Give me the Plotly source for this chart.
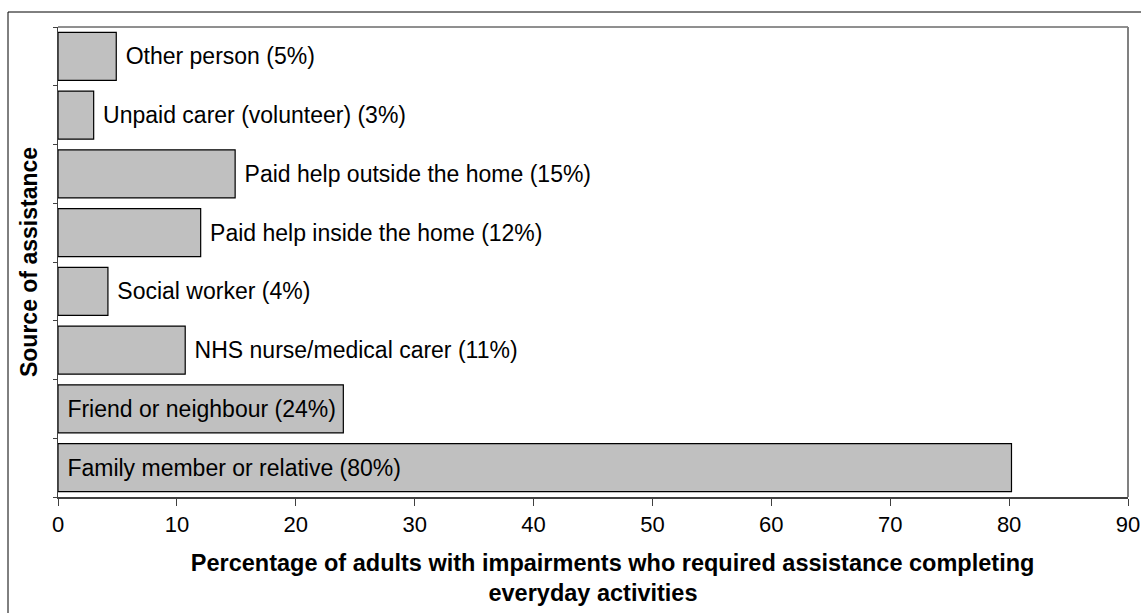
import plotly.graph_objects as go

categories = [
    "Family member or relative",
    "Friend or neighbour",
    "NHS nurse/medical carer",
    "Social worker",
    "Paid help inside the home",
    "Paid help outside the home",
    "Unpaid carer (volunteer)",
    "Other person",
]
values = [80.2, 24.0, 10.7, 4.2, 12.0, 14.9, 3.0, 4.9]
pct_labels = ["80%", "24%", "11%", "4%", "12%", "15%", "3%", "5%"]
text_positions = ["inside", "inside", "outside", "outside", "outside", "outside", "outside", "outside"]
x_ticks = [0, 10, 20, 30, 40, 50, 60, 70, 80, 90]

texts = [f" {c} ({p})" for c, p in zip(categories, pct_labels)]

FONT = "Arial, 'Liberation Sans', sans-serif"

fig = go.Figure(
    go.Bar(
        y=categories,
        x=values,
        orientation="h",
        marker=dict(color="#C0C0C0", line=dict(color="#000000", width=1.2)),
        text=texts,
        textposition=text_positions,
        insidetextanchor="start",
        textfont=dict(family=FONT, size=23, color="#000000"),
        insidetextfont=dict(family=FONT, size=23, color="#000000"),
        outsidetextfont=dict(family=FONT, size=23, color="#000000"),
        constraintext="none",
        cliponaxis=False,
        hoverinfo="skip",
    )
)

W, H = 1141, 613
L, R, T, B = 58, 1128, 27, 497
fig.update_layout(
    width=W,
    height=H,
    margin=dict(l=L, r=W - R, t=T, b=H - B, autoexpand=False),
    paper_bgcolor="white",
    plot_bgcolor="white",
    bargap=0.18,
    showlegend=False,
    font=dict(family=FONT, color="#000000"),
)

NB = "&nbsp;" * 6
fig.update_xaxes(
    range=[0, 90],
    tickvals=x_ticks,
    ticktext=[str(t) for t in x_ticks],
    ticks="outside",
    ticklen=7,
    tickcolor="#404040",
    tickwidth=1,
    tickfont=dict(family=FONT, size=22, color="#000000"),
    showgrid=False,
    zeroline=False,
    showline=True,
    linecolor="#404040",
    linewidth=2,
    automargin="height",
    title=dict(
        text=f"<b>{NB}Percentage of adults with impairments who required assistance completing<br>everyday activities</b>",
        font=dict(family=FONT, size=23.5, color="#000000"),
        standoff=18,
    ),
    fixedrange=True,
)

fig.update_yaxes(
    type="category",
    categoryorder="array",
    categoryarray=categories,
    showticklabels=False,
    ticks="outside",
    tickson="boundaries",
    ticklen=4,
    tickcolor="#404040",
    showgrid=False,
    zeroline=False,
    showline=True,
    linecolor="#404040",
    linewidth=1,
    automargin="width",
    title=dict(
        text="<b>Source of assistance</b>",
        font=dict(family=FONT, size=23, color="#000000"),
        standoff=12,
    ),
    fixedrange=True,
)

# plot-area frame (top and right) and outer chart border
pw, ph = R - L, B - T
fig.add_shape(type="line", xref="paper", yref="paper", x0=0, x1=1, y0=1, y1=1,
              line=dict(color="#202020", width=1))
fig.add_shape(type="line", xref="paper", yref="paper", x0=1, x1=1, y0=0, y1=1,
              line=dict(color="#808080", width=2))
fig.add_shape(type="rect", xref="paper", yref="paper",
              x0=(8 - L) / pw, x1=(1160 - L) / pw,
              y0=(B - 640) / ph, y1=(B - 12) / ph,
              line=dict(color="#000000", width=1), fillcolor="rgba(0,0,0,0)", layer="below")

fig.write_html(
    "out.html",
    config={"displayModeBar": False},
    post_script="document.body.style.margin='0';document.body.style.overflow='hidden';",
)
